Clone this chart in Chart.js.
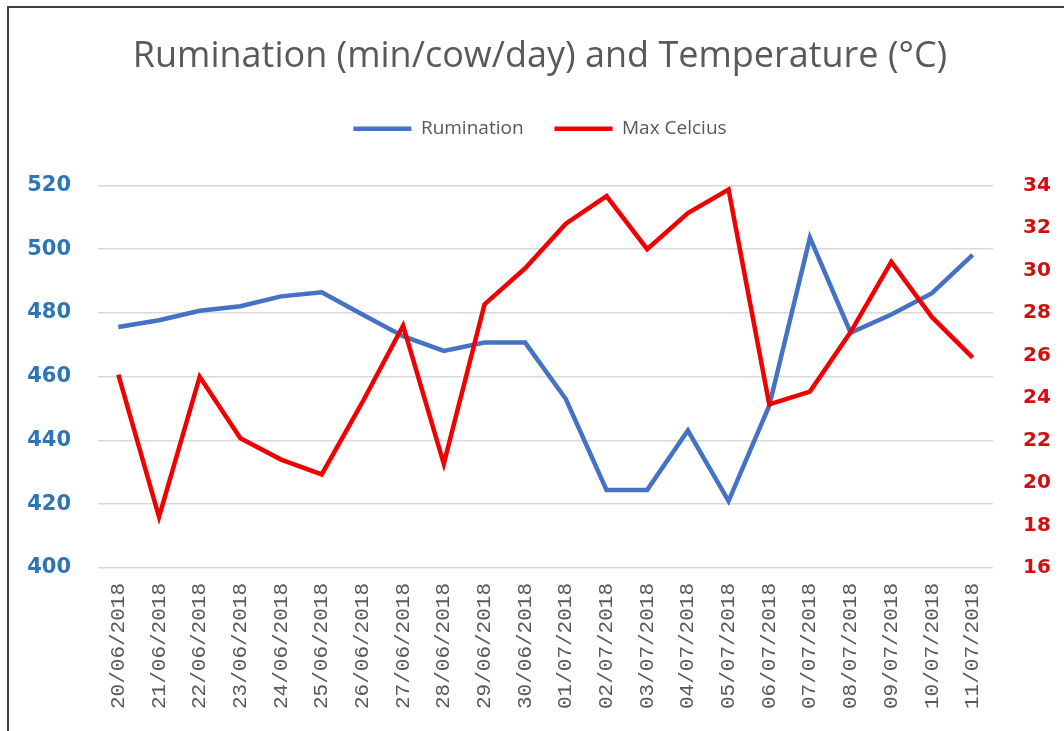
<!DOCTYPE html>
<html>
<head>
<meta charset="utf-8">
<script src="https://cdn.jsdelivr.net/npm/chart.js@4.4.1/dist/chart.umd.min.js"></script>
<style>
  html, body { margin: 0; padding: 0; background: #fff; overflow: hidden; }
  #wrap { position: relative; width: 1064px; height: 731px; }
  #frame {
    position: absolute; left: 7px; top: 6px; width: 1100px; height: 800px;
    border-left: 2px solid #3f3f3f; border-top: 2px solid #3f3f3f;
    pointer-events: none;
  }
</style>
</head>
<body>
<div id="wrap">
  <canvas id="myChart" width="1064" height="731"></canvas>
  <div id="frame"></div>
</div>
<script>
const dates = ['20/06/2018', '21/06/2018', '22/06/2018', '23/06/2018', '24/06/2018', '25/06/2018',
  '26/06/2018', '27/06/2018', '28/06/2018', '29/06/2018', '30/06/2018', '01/07/2018',
  '02/07/2018', '03/07/2018', '04/07/2018', '05/07/2018', '06/07/2018', '07/07/2018',
  '08/07/2018', '09/07/2018', '10/07/2018', '11/07/2018'];

const rumination = [475.6, 477.7, 480.7, 482.1, 485.2, 486.5, 479.5, 472.7, 468.1, 470.7, 470.7,
  453.0, 424.5, 424.5, 443.1, 421.0, 450.9, 503.6, 473.8, 479.5, 486.2, 498.2];

const maxCelcius = [25.1, 18.4, 25.0, 22.1, 21.1, 20.4, 23.8, 27.4, 20.9, 28.4, 30.1,
  32.2, 33.5, 31.0, 32.7, 33.8, 23.7, 24.3, 27.1, 30.4, 27.8, 25.9];

const leftTicks = [400, 420, 440, 460, 480, 500, 520];
const rightTicks = [16, 18, 20, 22, 24, 26, 28, 30, 32, 34];

const ctx = document.getElementById('myChart').getContext('2d');

new Chart(ctx, {
    type: 'line',
    data: {
        labels: dates,
        datasets: [{
            label: 'Rumination',
            data: rumination,
            yAxisID: 'y',
            borderColor: '#4472C4',
            backgroundColor: '#4472C4',
            borderWidth: 4.5,
            tension: 0,
            pointRadius: 0,
            order: 2
        }, {
            label: 'Max Celcius',
            data: maxCelcius,
            yAxisID: 'y1',
            borderColor: '#F00000',
            backgroundColor: '#F00000',
            borderWidth: 4.5,
            tension: 0,
            pointRadius: 0,
            order: 1
        }]
    },
    options: {
        responsive: false,
        animation: false,
        layout: {
            padding: { top: 10, left: 16, right: 0, bottom: 0 }
        },
        plugins: {
            title: {
                display: true,
                text: 'Rumination (min/cow/day) and Temperature (°C)',
                color: '#595959',
                font: { family: '"Open Sans"', size: 36, weight: 'normal' },
                padding: { top: 25, bottom: 10 }
            },
            // empty spacer between legend and plot area
            subtitle: {
                display: true,
                text: ' ',
                weight: 500,
                font: { size: 1 },
                padding: { top: 0, bottom: 36 }
            },
            legend: {
                display: true,
                labels: {
                    usePointStyle: true,
                    pointStyle: 'line',
                    pointStyleWidth: 58,
                    color: '#595959',
                    font: { family: '"Open Sans"', size: 19 },
                    padding: 31,
                    sort: (a, b) => a.datasetIndex - b.datasetIndex
                }
            },
            tooltip: { enabled: false }
        },
        scales: {
            x: {
                offset: true,
                grid: { display: false, drawTicks: false },
                border: { display: false },
                ticks: {
                    autoSkip: false,
                    maxRotation: 90,
                    minRotation: 90,
                    padding: 15,
                    color: '#595959',
                    font: { family: '"Liberation Mono"', size: 21 }
                },
                afterFit: function(scale) { scale.height = 163; }
            },
            y: {
                position: 'left',
                min: 400,
                max: 520,
                afterBuildTicks: function(scale) {
                    scale.ticks = leftTicks.map(v => ({ value: v }));
                },
                grid: { color: '#D9D9D9', lineWidth: 1.5, drawTicks: false },
                border: { display: false },
                ticks: {
                    padding: 27,
                    color: '#2E75B6',
                    font: { family: '"DejaVu Sans"', size: 21, weight: 'bold' }
                },
                afterFit: function(scale) { scale.width = 82; }
            },
            y1: {
                position: 'right',
                min: 16,
                max: 34,
                afterBuildTicks: function(scale) {
                    scale.ticks = rightTicks.map(v => ({ value: v }));
                },
                grid: { display: false, drawTicks: false },
                border: { display: false },
                ticks: {
                    padding: 30,
                    color: '#D01010',
                    font: { family: '"DejaVu Sans"', size: 20, weight: 'bold' }
                },
                afterFit: function(scale) { scale.width = 71; }
            }
        }
    }
});
</script>
</body>
</html>
